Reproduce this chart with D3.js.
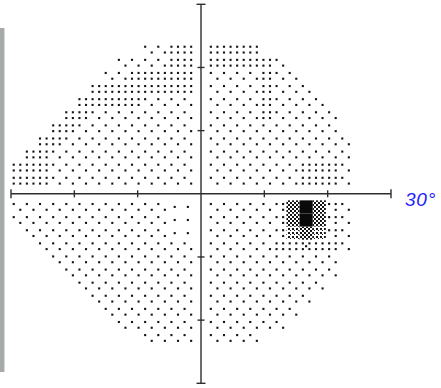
<!DOCTYPE html>
<html><head><meta charset="utf-8">
<script src="https://cdn.jsdelivr.net/npm/d3@7"></script>
<style>html,body{margin:0;padding:0;background:#fff;overflow:hidden}</style>
</head><body>
<svg id="chart" width="441" height="388"></svg>
<script>
// Grey-scale field map. Each character is one tile; the left 14 tiles sit left of the
// vertical meridian, the right 14 after the bar.
// '.' no tile, '0' one dot, '1' two dots, '2' three dots, '3' four dots, '4' five dots,
// '5' light checker, '6' dark checker, '9' solid black.
const upperField = [
  "..........1133|3333..........",
  "........111133|333331........",
  ".......1133333|1111311.......",
  "......33333333|11113111......",
  ".....333331111|111131111.....",
  "....3311111111|1111311111....",
  "...33111111111|1111111111....",
  "..331111111111|11111111111...",
  ".3311111111111|11111111111...",
  "33311111111111|11111113331...",
  "33311111111111|11111113331..."
];
const lowerField = [
  "11111111111100|11111269621...",
  "11111111111100|11111269621...",
  ".1111111111100|11111256521...",
  "..111111111111|11111334331...",
  "...11111111111|1111111111....",
  "....1111111111|1111111111....",
  ".....111111111|111111111.....",
  "......11111111|11111111......",
  ".......1111111|1111111.......",
  "........111111|111111........",
  "..........1111|1111.........."
];
const axisTicks = [-30, -20, -10, 0, 10, 20, 30];
const edgeLabel = "30°";

const CELL = 2.075;            // tile size in degrees
const svg = d3.select("#chart");
const x = d3.scaleLinear().domain([-30, 30]).range([11, 391]);
const y = d3.scaleLinear().domain([30, -30]).range([4.3, 383.3]);

// frame strip on the left edge
svg.append("rect").attr("x", 0).attr("y", 28).attr("width", 4).attr("height", 344).attr("fill", "#a5aba7");
svg.append("rect").attr("x", 4).attr("y", 28).attr("width", 1).attr("height", 344).attr("fill", "#d6dad7");

// dot positions inside a tile, in quarter-tile steps
const dotSets = {
  "0": [[0, 0]],
  "1": [[-1, 1], [1, -1]],
  "2": [[-1, 1], [1, 1], [1, -1]],
  "3": [[-1, 1], [1, 1], [-1, -1], [1, -1]],
  "4": [[-1, 1], [1, 1], [-1, -1], [1, -1], [0, 0]]
};

const defs = svg.append("defs");
const light = defs.append("pattern").attr("id", "chkLight").attr("patternUnits", "userSpaceOnUse")
  .attr("width", 4).attr("height", 4);
light.append("rect").attr("x", 0).attr("y", 0).attr("width", 2).attr("height", 2).attr("fill", "#1a1a1a");
light.append("rect").attr("x", 2).attr("y", 2).attr("width", 1).attr("height", 1).attr("fill", "#1a1a1a");
const dark = defs.append("pattern").attr("id", "chkDark").attr("patternUnits", "userSpaceOnUse")
  .attr("width", 4).attr("height", 4);
dark.append("rect").attr("x", 0).attr("y", 0).attr("width", 2).attr("height", 2).attr("fill", "#141414");
dark.append("rect").attr("x", 2).attr("y", 2).attr("width", 2).attr("height", 2).attr("fill", "#141414");
const fills = { "5": "url(#chkLight)", "6": "url(#chkDark)", "9": "#0a0a0a" };

// expand rows into tiles
const tiles = [];
function addRows(rows, rowIndex) {
  rows.forEach((line, k) => {
    const [left, right] = line.split("|");
    const r = rowIndex(k);
    [...left].forEach((ch, i) => { if (ch !== ".") tiles.push({ c: i - 14, r, v: ch }); });
    [...right].forEach((ch, j) => { if (ch !== ".") tiles.push({ c: j + 1, r, v: ch }); });
  });
}
addRows(upperField, k => upperField.length - k);
addRows(lowerField, k => -(k + 1));

const field = svg.append("g");
const qx = CELL / 4, qy = CELL * 0.22, ds = 2.1;
tiles.filter(t => fills[t.v]).forEach(t => {
  field.append("rect")
    .attr("x", x((t.c - 0.5) * CELL)).attr("y", y((t.r + 0.5) * CELL))
    .attr("width", x((t.c + 0.5) * CELL) - x((t.c - 0.5) * CELL))
    .attr("height", y((t.r - 0.5) * CELL) - y((t.r + 0.5) * CELL))
    .attr("fill", fills[t.v]);
});
const dots = [];
tiles.filter(t => dotSets[t.v]).forEach(t => {
  dotSets[t.v].forEach(([dx, dy]) => dots.push({ cx: t.c * CELL + dx * qx, cy: t.r * CELL + dy * qy }));
});
field.selectAll("rect.dot").data(dots).join("rect").attr("class", "dot")
  .attr("x", d => x(d.cx) - ds / 2).attr("y", d => y(d.cy) - ds / 2)
  .attr("width", ds).attr("height", ds).attr("fill", "#141414");

// cross-shaped axes with ticks every 10 degrees
const ax = svg.append("g").attr("stroke", "#2e2e2e").attr("stroke-width", 1.4).attr("fill", "none");
ax.append("line").attr("x1", x(-30)).attr("x2", x(30)).attr("y1", y(0)).attr("y2", y(0));
ax.append("line").attr("x1", x(0)).attr("x2", x(0)).attr("y1", y(30)).attr("y2", y(-30));
const tickLen = v => (Math.abs(v) === 30 ? 4.5 : 3.5);
ax.selectAll("line.tx").data(axisTicks.filter(v => v !== 0)).join("line").attr("class", "tx")
  .attr("x1", d => x(d)).attr("x2", d => x(d))
  .attr("y1", d => y(0) - tickLen(d)).attr("y2", d => y(0) + tickLen(d));
ax.selectAll("line.ty").data(axisTicks.filter(v => v !== 0)).join("line").attr("class", "ty")
  .attr("y1", d => y(d)).attr("y2", d => y(d))
  .attr("x1", d => x(0) - tickLen(d)).attr("x2", d => x(0) + tickLen(d));

svg.append("text").attr("x", x(30) + 14).attr("y", y(0) + 11.8)
  .attr("font-family", "Liberation Sans, Arial, sans-serif").attr("font-style", "italic")
  .attr("font-size", 19).attr("letter-spacing", 0.8).attr("fill", "#1e1eff").text(edgeLabel);
</script>
</body></html>
